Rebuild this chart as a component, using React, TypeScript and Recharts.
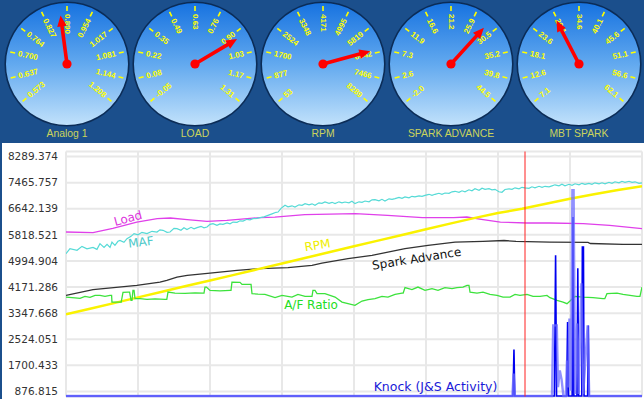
import React from 'react';
import { PieChart, Pie, LineChart, Line, XAxis, YAxis, CartesianGrid, ReferenceLine, ReferenceDot } from 'recharts';

// ---------- Gauge data ----------
const gaugeTitles = ['Analog 1', 'LOAD', 'RPM', 'SPARK ADVANCE', 'MBT SPARK'];
const gaugeTickLabels = [
  ['0.573', '0.637', '0.700', '0.764', '0.827', '0.890', '0.954', '1.017', '1.081', '1.144', '1.208'],
  ['-0.05', '0.08', '0.22', '0.35', '0.49', '0.63', '0.76', '0.90', '1.03', '1.17', '1.31'],
  ['53', '877', '1700', '2524', '3348', '4171', '4995', '5819', '6642', '7466', '8289'],
  ['-2.0', '2.6', '7.3', '11.9', '16.6', '21.2', '25.9', '30.5', '35.2', '39.8', '44.5'],
  ['7.1', '12.6', '18.1', '23.6', '29.1', '34.6', '40.1', '45.6', '51.1', '56.6', '62.1'],
];
const gaugeMin = [0.573, -0.05, 53, -2.0, 7.1];
const gaugeMax = [1.208, 1.31, 8289, 44.5, 62.1];
const gaugeValues = [0.872, 0.94, 6540, 28.8, 28.8];
const gaugeReadouts = ['0.872', '0.94', '6540', '28.8', '28.8'];

// ---------- Line chart data ----------
const yTicks = [876.815, 1700.433, 2524.051, 3347.668, 4171.286, 4994.904, 5818.521, 6642.139, 7465.757, 8289.374];
const yDomain = [717.5, 8448.7];
const xTicks = [0, 6, 12, 18, 24, 30, 36, 42, 48];
const cursorTime = 38.25;

const loadSeries = [
  [0, 5908], [2.25, 5889], [3.9, 6025], [5.9, 6223], [7.6, 6331], [8.7, 6350], [10.1, 6299], [11.75, 6246],
  [13.4, 6277], [15.1, 6331], [16.2, 6362], [17.4, 6381], [19.9, 6457], [22, 6470], [24.1, 6488], [26.8, 6435],
  [29.7, 6362], [32.3, 6362], [33.4, 6381], [34.75, 6299], [36.2, 6223], [38.4, 6192], [40.3, 6192], [43.1, 6173],
  [45.3, 6119], [48, 6015],
];

const mafSeries = [
  [0, 5225], [0.33, 5383], [0.92, 5330], [1.33, 5456], [1.75, 5377], [2.25, 5424], [2.58, 5361], [2.83, 5541],
  [3.17, 5424], [3.42, 5519], [3.67, 5424], [3.83, 5592], [4.08, 5487], [4.33, 5614], [4.5, 5645], [4.83, 5582],
  [5.08, 5699], [5.42, 5772], [5.67, 5857], [6, 5819], [6.33, 5898], [6.75, 5857], [7.17, 5930], [7.58, 5907],
  [7.83, 5977], [8.08, 5961], [8.42, 5898], [8.67, 5907], [9, 6024], [9.25, 6015], [9.58, 5961], [9.83, 6040],
  [10.08, 5983], [10.42, 6056], [10.67, 6008], [10.92, 6046], [11.25, 6088], [11.5, 6040], [11.75, 6065], [12, 6151],
  [12.25, 6173], [12.58, 6119], [12.83, 6166], [13.08, 6151], [13.42, 6198], [13.67, 6166], [13.92, 6223], [14.25, 6214],
  [14.5, 6261], [14.75, 6255], [15.08, 6309], [15.33, 6293], [15.58, 6331], [15.92, 6340], [16.17, 6362], [16.5, 6388],
  [16.83, 6435], [17.17, 6482], [17.5, 6530], [17.67, 6539], [17.92, 6656], [18.25, 6751], [18.5, 6703], [18.83, 6735],
  [19.08, 6697], [19.42, 6766], [19.67, 6751], [19.92, 6804], [20.25, 6766], [20.5, 6798], [20.75, 6751], [21.08, 6830],
  [21.33, 6814], [21.58, 6855], [21.92, 6814], [22.17, 6845], [22.42, 6804], [22.75, 6861], [23, 6830], [23.25, 6855],
  [23.58, 6830], [23.83, 6877], [24.08, 6804], [24.42, 6861], [24.67, 6845], [24.92, 6886], [25.25, 6861], [25.5, 6924],
  [25.75, 6931], [26.08, 6893], [26.33, 6940], [26.58, 6886], [26.92, 6956], [27.17, 6940], [27.42, 6962], [27.75, 7003],
  [28, 6972], [28.25, 7013], [28.58, 6988], [28.83, 7035], [29.08, 7019], [29.42, 7051], [29.67, 7035], [29.92, 7066],
  [30.25, 7098], [30.5, 7066], [30.75, 7098], [31.08, 7130], [31.33, 7098], [31.58, 7139], [31.92, 7130], [32.17, 7177],
  [32.42, 7193], [32.75, 7161], [33, 7209], [33.25, 7177], [33.58, 7240], [33.83, 7209], [34.08, 7272], [34.42, 7224],
  [34.67, 7288], [34.92, 7256], [35.25, 7278], [35.5, 7240], [35.75, 7256], [36.08, 7177], [36.33, 7161], [36.58, 7250],
  [36.92, 7272], [37.17, 7256], [37.42, 7303], [37.75, 7272], [38, 7319], [38.25, 7303], [38.58, 7288], [38.83, 7335],
  [39.08, 7303], [39.42, 7351], [39.67, 7319], [39.92, 7351], [40.25, 7335], [40.5, 7366], [40.75, 7398], [41.08, 7366],
  [41.33, 7414], [41.58, 7366], [41.92, 7414], [42.17, 7382], [42.42, 7430], [42.75, 7398], [43, 7445], [43.25, 7414],
  [43.58, 7445], [43.83, 7414], [44.08, 7461], [44.42, 7430], [44.67, 7461], [44.92, 7430], [45.25, 7477], [45.5, 7445],
  [45.75, 7493], [46.08, 7461], [46.33, 7509], [46.58, 7477], [46.92, 7509], [47.17, 7477], [47.42, 7493], [47.75, 7445],
  [48, 7461],
];

const rpmSeries = [
  [0, 3309], [2, 3488], [4, 3665], [6, 3845], [8, 4022], [10, 4202], [12, 4379], [14, 4556], [16, 4736], [18, 4916],
  [20, 5096], [22, 5276], [24, 5456], [26, 5636], [28, 5816], [30, 5996], [32, 6173], [34, 6347], [36, 6505],
  [38, 6641], [40, 6798], [42, 6956], [44, 7098], [46, 7231], [48, 7351],
];

const sparkSeries = [
  [0, 3908], [2.25, 4088], [5.9, 4224], [7.83, 4329], [8.4, 4382], [9.25, 4486], [10.1, 4540], [12, 4613],
  [14.25, 4698], [16.17, 4752], [18.5, 4783], [20.5, 4856], [21.33, 4928], [23.5, 5067], [25.5, 5172], [28.25, 5383],
  [30.17, 5488], [32.42, 5592], [34.75, 5614], [36.5, 5640], [37.5, 5614], [40.33, 5592], [43.5, 5580], [43.7, 5545],
  [46.42, 5519], [48, 5519],
];

const afSeries = [
  [0, 3855], [0.75, 3830], [1.17, 3814], [1.58, 3877], [2, 3846], [2.42, 3909], [2.83, 3909], [3.25, 3877], [3.67, 3909],
  [3.8, 3909], [3.83, 3697], [4.5, 3697], [4.6, 3697], [4.75, 4004], [5.17, 4013], [5.3, 4013], [5.42, 3751], [5.5, 3751],
  [5.58, 4067], [5.67, 4067], [5.75, 3805], [6.17, 3805], [6.75, 3783], [7.42, 3798], [8.25, 3783], [8.4, 3783],
  [8.5, 4013], [9.08, 3982], [9.92, 3972], [10.75, 3988], [11.42, 3982], [11.5, 3982], [11.58, 4171], [11.7, 4171],
  [12, 4067], [12.83, 4051], [13.67, 4067], [13.75, 4067], [13.83, 4329], [14.5, 4319], [14.67, 4256], [15.33, 4256],
  [15.42, 4256], [15.5, 3963], [16, 3950], [16.58, 3940], [17.42, 3836], [18, 3909], [18.83, 3855], [19.33, 3940],
  [19.92, 3877], [20.5, 3877], [20.58, 4067], [20.75, 4067], [20.92, 3963], [21.58, 3963], [22.42, 3855], [23, 3697],
  [23.5, 3647], [24.08, 3593], [24.67, 3729], [25.17, 3773], [25.75, 3805], [26.33, 3877], [26.83, 3855], [27.42, 3940],
  [28, 3982], [28.1, 3982], [28.25, 4152], [28.83, 4089], [29.33, 4171], [29.92, 4067], [30.5, 4120], [31, 4067],
  [31.58, 4152], [32.17, 4120], [32.58, 4152], [33.08, 4171], [33.42, 4225], [33.58, 4225], [33.67, 4013], [34.25, 3982],
  [34.75, 4013], [35.33, 3940], [35.92, 3909], [36.42, 3855], [37, 3855], [37.42, 3940], [37.83, 3909], [38.42, 3940],
  [38.92, 3877], [39.5, 3877], [40.08, 3909], [40.33, 3836], [40.92, 3751], [41.42, 3697], [41.75, 3647], [42, 3729],
  [42.42, 3877], [43.08, 3855], [43.92, 3836], [44.75, 3805], [44.9, 3805], [45.08, 3963], [45.92, 3982], [46.42, 3940],
  [47, 3909], [47.58, 3877], [47.83, 3877], [48, 4171],
];

const knockDarkSeries = [
  [0, 735], [37.25, 735], [37.33, 2203], [37.4, 735], [40.7, 735], [40.8, 5172], [40.88, 735], [41.72, 735],
  [41.8, 3065], [41.88, 735], [42.18, 735], [42.25, 6381], [42.32, 735], [42.58, 735], [42.65, 4761], [42.72, 735],
  [42.98, 735], [43.03, 5434], [43.12, 5434], [43.17, 735], [43.47, 735], [43.53, 2961], [43.58, 735], [48, 735],
];

const knockLightSeries = [
  [0, 735], [37.2, 735], [37.3, 1445], [37.4, 735], [40.5, 735], [40.6, 2961], [40.9, 2961], [41.0, 1013],
  [41.15, 1540], [41.3, 1250], [41.45, 735], [41.65, 735], [41.75, 1856], [41.85, 1000], [41.95, 3182], [42.08, 900],
  [42.2, 7225], [42.3, 7225], [42.42, 800], [42.6, 3024], [42.72, 800], [42.95, 4288], [43.1, 800], [43.47, 2961],
  [43.6, 735], [48, 735],
];

const seriesLabelTexts = ['Load', 'MAF', 'RPM', 'Spark Advance', 'A/F Ratio', 'Knock (J&S Activity)'];
const seriesLabelT = [5.17, 6.25, 20.96, 29.22, 20.42, 30.79];
const seriesLabelV = [6340, 5582, 5488, 5067, 3592, 1019];

// ---------- styles ----------
const labelColors = ['#dd33dd', '#4cc9c9', '#eeee00', '#111111', '#22dd22', '#1a1ad8'];
const labelAngles = [-15, -7, -9, -9, 0, 0];
const labelSizes = [12, 12, 12, 12, 12, 12.5];

const toPoints = (arr: number[][]) => arr.map(([t, v]) => ({ t, v }));

const rad = (a: number) => (a * Math.PI) / 180;
const polar = (cx: number, cy: number, r: number, a: number) => ({
  x: cx + r * Math.cos(rad(a)),
  y: cy - r * Math.sin(rad(a)),
});

const G_START = 220;
const G_END = -40;
const G_STEP = 26;

function renderTick(props: any) {
  const { cx, cy, midAngle } = props;
  const name = props.payload?.name ?? props.name;
  const a = midAngle;
  const p1 = polar(cx, cy, 53, a);
  const p2 = polar(cx, cy, 58, a);
  const pt = polar(cx, cy, 50, a);
  const left = a >= 89.9;
  const rot = left ? 180 - a : -a;
  return (
    <g>
      <line x1={p1.x} y1={p1.y} x2={p2.x} y2={p2.y} stroke="#ffff00" strokeWidth={1.6} />
      <text
        x={pt.x}
        y={pt.y}
        transform={`rotate(${rot} ${pt.x} ${pt.y})`}
        textAnchor={left ? 'start' : 'end'}
        dominantBaseline="central"
        fill="#ffff00"
        fontSize={8}
        fontWeight="bold"
        fontFamily="Liberation Sans, Arial, sans-serif"
      >
        {name}
      </text>
    </g>
  );
}

function renderNeedle(props: any) {
  if (props.index !== 0) return <g />;
  const { cx, cy, endAngle } = props;
  const a = endAngle;
  const tip = polar(cx, cy, 49, a);
  const base = polar(cx, cy, 38, a);
  const px = Math.sin(rad(a)) * 4.8;
  const py = Math.cos(rad(a)) * 4.8;
  return (
    <g>
      <line x1={cx} y1={cy} x2={base.x} y2={base.y} stroke="#ff0000" strokeWidth={3.6} strokeLinecap="round" />
      <polygon points={`${tip.x},${tip.y} ${base.x + px},${base.y + py} ${base.x - px},${base.y - py}`} fill="#ff0000" />
      <circle cx={cx} cy={cy} r={4.6} fill="#ff0000" />
    </g>
  );
}

function Gauge({ idx }: { idx: number }) {
  const tickData = gaugeTickLabels[idx].map((name) => ({ name, v: 1 }));
  const needleData = [
    { v: gaugeValues[idx] - gaugeMin[idx] },
    { v: gaugeMax[idx] - gaugeValues[idx] },
  ];
  const half = G_STEP / 2;
  return (
    <PieChart width={128} height={143} margin={{ top: 0, right: 0, bottom: 0, left: 0 }}>
      <defs>
        <linearGradient id={`face${idx}`} x1="0" y1="0" x2="0" y2="1">
          <stop offset="0%" stopColor="#1672e0" />
          <stop offset="50%" stopColor="#62a9ef" />
          <stop offset="100%" stopColor="#c2e2fb" />
        </linearGradient>
      </defs>
      <Pie
        data={[{ v: 1 }]}
        dataKey="v"
        cx={64}
        cy={64}
        innerRadius={0}
        outerRadius={62}
        startAngle={90}
        endAngle={-270}
        fill={`url(#face${idx})`}
        stroke="none"
        isAnimationActive={false}
      />
      <Pie
        data={[{ v: 1 }]}
        dataKey="v"
        cx={64}
        cy={64}
        innerRadius={61}
        outerRadius={62.6}
        startAngle={90}
        endAngle={-270}
        fill="#0b2c57"
        stroke="none"
        isAnimationActive={false}
      />
      <Pie
        data={tickData}
        dataKey="v"
        cx={64}
        cy={64}
        innerRadius={53}
        outerRadius={58}
        startAngle={G_START + half}
        endAngle={G_END - half}
        fill="none"
        stroke="none"
        label={renderTick}
        labelLine={false}
        isAnimationActive={false}
      />
      <text x={64} y={96} textAnchor="middle" dominantBaseline="central" fill="#7e1c68" fontSize={8.5} fontWeight="bold" fontFamily="Liberation Sans, Arial, sans-serif">
        {gaugeReadouts[idx]}
      </text>
      <text x={64} y={133} textAnchor="middle" dominantBaseline="central" fill="#cbd45c" fontSize={10.4} fontFamily="Liberation Sans, Arial, sans-serif">
        {gaugeTitles[idx]}
      </text>
      <Pie
        data={needleData}
        dataKey="v"
        cx={64}
        cy={64}
        innerRadius={0}
        outerRadius={49}
        startAngle={G_START}
        endAngle={G_END}
        fill="none"
        stroke="none"
        label={renderNeedle}
        labelLine={false}
        isAnimationActive={false}
      />
    </PieChart>
  );
}

export default function App() {
  const loadData = toPoints(loadSeries);
  const mafData = toPoints(mafSeries);
  const rpmData = toPoints(rpmSeries);
  const sparkData = toPoints(sparkSeries);
  const afData = toPoints(afSeries);
  const knockDark = toPoints(knockDarkSeries);
  const knockLight = toPoints(knockLightSeries);

  return (
    <div style={{ position: 'absolute', left: 0, top: 0, width: 644, height: 399, overflow: 'hidden', background: '#ffffff' }}>
      <div style={{ position: 'absolute', left: 0, top: 0, width: 644, height: 143, background: '#1b4f8c' }}>
        {gaugeTitles.map((_, i) => (
          <div key={i} style={{ position: 'absolute', left: 3 + 128 * i, top: 0, width: 128, height: 143 }}>
            <Gauge idx={i} />
          </div>
        ))}
      </div>
      <div style={{ position: 'absolute', left: 0, top: 143, width: 644, height: 256, background: '#ffffff' }}>
        <LineChart width={644} height={256} margin={{ top: 8.5, right: 2, bottom: 2.5, left: 0 }}>
          <CartesianGrid stroke="#e8e8e8" strokeWidth={2} />
          <XAxis type="number" dataKey="t" domain={[0, 48]} ticks={xTicks} hide allowDataOverflow />
          <YAxis
            type="number"
            domain={yDomain}
            ticks={yTicks}
            width={66}
            axisLine={false}
            tickLine={false}
            tickSize={0}
            tickMargin={8}
            interval={0}
            tick={{ fontSize: 10.5, fill: '#333333', fontFamily: 'DejaVu Sans' }}
            tickFormatter={(v: number) => v.toFixed(3)}
          />
          <Line data={loadData} dataKey="v" type="linear" stroke="#e040ea" strokeWidth={1.3} dot={false} isAnimationActive={false} />
          <Line data={mafData} dataKey="v" type="linear" stroke="#55dad6" strokeWidth={1.2} dot={false} isAnimationActive={false} />
          <Line data={sparkData} dataKey="v" type="linear" stroke="#333333" strokeWidth={1.3} dot={false} isAnimationActive={false} />
          <Line data={rpmData} dataKey="v" type="linear" stroke="#faf200" strokeWidth={2.5} dot={false} isAnimationActive={false} />
          <Line data={afData} dataKey="v" type="linear" stroke="#3ce23c" strokeWidth={1.3} dot={false} isAnimationActive={false} />
          <Line data={knockDark} dataKey="v" type="linear" stroke="#0000f0" strokeWidth={1.6} dot={false} isAnimationActive={false} />
          <Line data={knockLight} dataKey="v" type="linear" stroke="#6c6cff" strokeOpacity={0.75} strokeWidth={2.4} dot={false} isAnimationActive={false} />
          <ReferenceLine x={cursorTime} stroke="#ff2020" strokeWidth={1} />
          {seriesLabelTexts.map((text, i) => (
            <ReferenceDot
              key={text}
              x={seriesLabelT[i]}
              y={seriesLabelV[i]}
              r={1}
              ifOverflow="visible"
              shape={(p: any) => (
                <text
                  x={p.cx}
                  y={p.cy}
                  transform={`rotate(${labelAngles[i]} ${p.cx} ${p.cy})`}
                  textAnchor="middle"
                  dominantBaseline="central"
                  fill={labelColors[i]}
                  fontSize={labelSizes[i]}
                  fontFamily="DejaVu Sans"
                >
                  {text}
                </text>
              )}
            />
          ))}
        </LineChart>
      </div>
      <div style={{ position: 'absolute', left: 0, top: 143, width: 2, height: 256, background: '#1b4f8c' }} />
    </div>
  );
}
